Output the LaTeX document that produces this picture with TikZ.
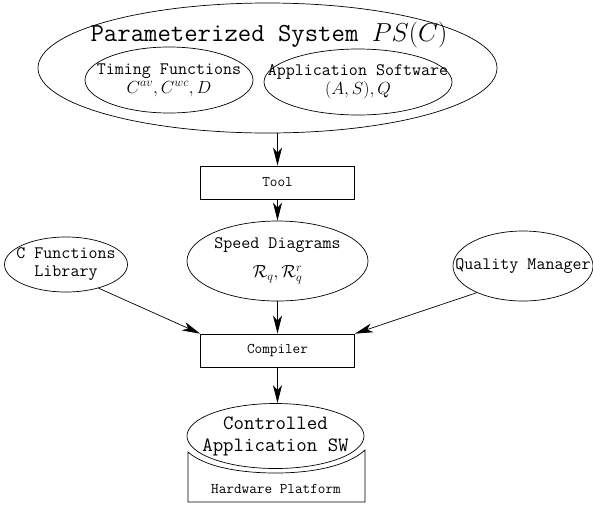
\RequirePackage{fix-cm}
\documentclass[tikz,border=0pt]{standalone}
\usetikzlibrary{shapes.geometric,arrows.meta,positioning}

\newcommand{\nowide}[1]{\makebox[0pt]{#1}}
\newcommand{\fsTitle}{\fontsize{26}{28}\selectfont\ttfamily}
\newcommand{\fsMid}{\fontsize{17.5}{18}\selectfont\ttfamily}
\newcommand{\fsCtl}{\fontsize{20.3}{22}\selectfont\ttfamily}
\newcommand{\fsBox}{\fontsize{14.8}{16}\selectfont\ttfamily}

\begin{document}
\begin{tikzpicture}[x=1pt,y=-1pt,line width=0.7pt,
                    oval/.style={draw,ellipse,inner sep=0pt,align=center},
                    stage/.style={draw,rectangle,minimum width=154pt,
                    minimum height=33pt,font=\fsBox},
                    link/.style={draw,-{Stealth[length=18pt,width=9pt,inset=5pt]}}]
  \useasboundingbox (0,0) rectangle (593,504);
  % parameterized system
  \node[oval,minimum width=459pt,minimum height=130pt] (ps) at (267.5,68) {};
  \node[font=\fsTitle] (title) at (269,35) {Parameterized System $PS(C)$};
  \node[oval,font=\fsMid,minimum width=168pt,minimum height=66pt] (timing) at (169,80)
    {\nowide{Timing Functions}\\[1pt]\nowide{$C^{av},C^{wc},D$}};
  \node[oval,font=\fsMid,minimum width=188pt,minimum height=66pt] (appsw) at (358,82)
    {\nowide{Application Software}\\[1pt]\nowide{$(A,S),Q$}};
  % tool chain
  \node[stage] (tool) at (277.5,182.5) {Tool};
  \node[oval,font=\fsMid,minimum width=181pt,minimum height=80pt] (speed) at (277.5,261)
    {\nowide{Speed Diagrams}\\[11pt]\nowide{$\mathcal{R}_q,\mathcal{R}^r_q$}};
  \node[oval,font=\fsMid,minimum width=123pt,minimum height=55pt] (cfun) at (66,264.5)
    {\nowide{C Functions}\\\nowide{Library}};
  \node[oval,font=\fsMid,minimum width=140pt,minimum height=70pt] (qual) at (523,266)
    {\nowide{Quality Manager}};
  \node[stage] (compiler) at (277.5,350.5) {Compiler};
  % platform
  \draw (188,452) .. controls (205,467) and (240,473) .. (276,473)
                  .. controls (312,473) and (348,466) .. (365,450)
                  -- (365,502) -- (188,502) -- cycle;
  \node[font=\fsBox] (hw) at (276,489) {Hardware Platform};
  \node[oval,font=\fsCtl,minimum width=177pt,minimum height=65pt] (ctrl) at (275.5,436)
    {\nowide{Controlled}\\\nowide{Application SW}};

  \draw[link] (ps.south -| tool.north) -- (tool.north);
  \draw[link] (tool.south) -- (speed.north);
  \draw[link] (speed.south) -- (compiler.north);
  \draw[link] (cfun.-36) -- (compiler.north west);
  \draw[link] (qual.210) -- (compiler.north east);
  \draw[link] (compiler.south) -- (compiler.south |- ctrl.north);
\end{tikzpicture}
\end{document}
